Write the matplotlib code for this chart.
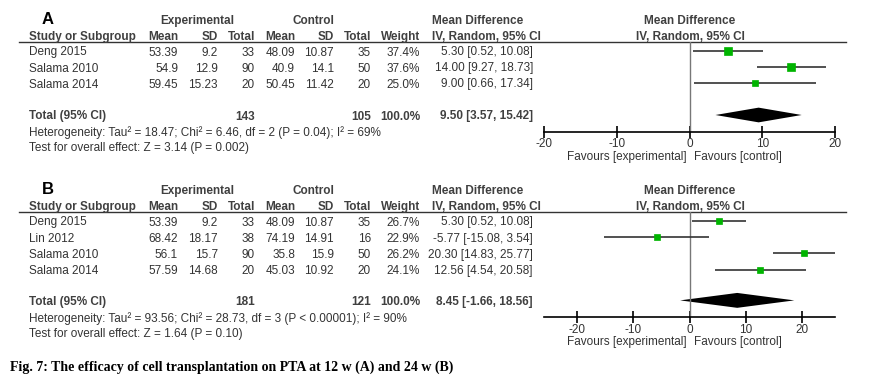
import numpy as np
import matplotlib
matplotlib.use("Agg")
import matplotlib.pyplot as plt

plt.rcParams['font.family'] = ['Liberation Sans', 'DejaVu Sans']

# ---- dados painel A (12 w)
studies_a = ["Deng 2015", "Salama 2010", "Salama 2014"]
exp_mean_a = [53.39, 54.9, 59.45]
exp_sd_a = [9.2, 12.9, 15.23]
exp_n_a = [33, 90, 20]
ctl_mean_a = [48.09, 40.9, 50.45]
ctl_sd_a = [10.87, 14.1, 11.42]
ctl_n_a = [35, 50, 20]
weight_a = [37.4, 37.6, 25.0]
md_a = [5.30, 14.00, 9.00]
lo_a = [0.52, 9.27, 0.66]
hi_a = [10.08, 18.73, 17.34]
total_a = [9.50, 3.57, 15.42]
het_a = "Heterogeneity: Tau² = 18.47; Chi² = 6.46, df = 2 (P = 0.04); I² = 69%"
test_a = "Test for overall effect: Z = 3.14 (P = 0.002)"

# ---- dados painel B (24 w)
studies_b = ["Deng 2015", "Lin 2012", "Salama 2010", "Salama 2014"]
exp_mean_b = [53.39, 68.42, 56.1, 57.59]
exp_sd_b = [9.2, 18.17, 15.7, 14.68]
exp_n_b = [33, 38, 90, 20]
ctl_mean_b = [48.09, 74.19, 35.8, 45.03]
ctl_sd_b = [10.87, 14.91, 15.9, 10.92]
ctl_n_b = [35, 16, 50, 20]
weight_b = [26.7, 22.9, 26.2, 24.1]
md_b = [5.30, -5.77, 20.30, 12.56]
lo_b = [0.52, -15.08, 14.83, 4.54]
hi_b = [10.08, 3.54, 25.77, 20.58]
total_b = [8.45, -1.66, 18.56]
het_b = "Heterogeneity: Tau² = 93.56; Chi² = 28.73, df = 3 (P < 0.00001); I² = 90%"
test_b = "Test for overall effect: Z = 1.64 (P = 0.10)"

ticks = [-20, -10, 0, 10, 20]
caption = "Fig. 7: The efficacy of cell transplantation on PTA at 12 w (A) and 24 w (B)"

W, H = 894, 383
fig = plt.figure(figsize=(W / 100, H / 100), dpi=100)
tab = fig.add_axes([0, 0, 1, 1])
tab.set_xlim(0, W)
tab.set_ylim(H, 0)
tab.axis("off")

TXT = "#333333"
HDR = "#404040"
FS = 8.5
GREEN = "#00b400"

# colunas (pixels, alinhadas a direita)
cols = [178, 218, 255, 295, 334, 371, 420]


def painel(letra, top, row_y, row_h, total_row, axis_y, xlim,
           studies, em, esd, en, cm, csd, cn, w, md, lo, hi, tot, het, test):
    # cabecalho
    tab.text(42, top - 22, letra, fontsize=12, fontweight="bold", color="black", va="center")
    tab.text(197, top - 21, "Experimental", fontsize=FS, fontweight="bold", color=HDR, ha="center", va="center")
    tab.text(313, top - 21, "Control", fontsize=FS, fontweight="bold", color=HDR, ha="center", va="center")
    tab.text(432, top - 21, "Mean Difference", fontsize=FS, fontweight="bold", color=HDR, va="center")
    tab.text(690, top - 21, "Mean Difference", fontsize=FS, fontweight="bold", color=HDR, ha="center", va="center")
    tab.text(29, top - 5, "Study or Subgroup", fontsize=FS, fontweight="bold", color=HDR, va="center")
    for x, lab in zip(cols, ["Mean", "SD", "Total", "Mean", "SD", "Total", "Weight"]):
        tab.text(x, top - 5, lab, fontsize=FS, fontweight="bold", color=HDR, ha="right", va="center")
    tab.text(432, top - 5, "IV, Random, 95% CI", fontsize=FS, fontweight="bold", color=HDR, va="center")
    tab.text(690, top - 5, "IV, Random, 95% CI", fontsize=FS, fontweight="bold", color=HDR, ha="center", va="center")
    tab.plot([19, 846], [top, top], color="#333333", lw=1)

    # linhas dos estudos
    for i, s in enumerate(studies):
        y = row_y + i * row_h + 1.5
        tab.text(29, y, s, fontsize=FS, color=TXT, va="center")
        vals = [str(em[i]), str(esd[i]), str(en[i]), str(cm[i]), str(csd[i]), str(cn[i]), f"{w[i]:.1f}%"]
        for x, v in zip(cols, vals):
            tab.text(x, y, v, fontsize=FS, color=TXT, ha="right", va="center")
        tab.text(533, y, f"{md[i]:.2f} [{lo[i]:.2f}, {hi[i]:.2f}]", fontsize=FS, color=TXT, ha="right", va="center")

    yt = row_y + total_row * row_h + 1.5
    tab.text(29, yt, "Total (95% CI)", fontsize=FS, fontweight="bold", color=HDR, va="center")
    tab.text(cols[2], yt, str(sum(en)), fontsize=FS, fontweight="bold", color=HDR, ha="right", va="center")
    tab.text(cols[5], yt, str(sum(cn)), fontsize=FS, fontweight="bold", color=HDR, ha="right", va="center")
    tab.text(cols[6], yt, "100.0%", fontsize=FS, fontweight="bold", color=HDR, ha="right", va="center")
    tab.text(533, yt, f"{tot[0]:.2f} [{tot[1]:.2f}, {tot[2]:.2f}]", fontsize=FS, fontweight="bold",
             color=HDR, ha="right", va="center")
    tab.text(29, yt + 16.5, het, fontsize=FS, color=TXT, va="center")
    tab.text(29, yt + 32, test, fontsize=FS, color=TXT, va="center")

    # grafico de floresta
    x0, x1 = 544, 835
    ax = fig.add_axes([x0 / W, 1 - axis_y / H, (x1 - x0) / W, (axis_y - top) / H])
    ax.set_xlim(*xlim)
    y_top = (top - row_y) / row_h
    y_bot = (axis_y - row_y) / row_h
    ax.set_ylim(y_bot, y_top)
    ax.patch.set_alpha(0)
    for sp in ["top", "left", "right"]:
        ax.spines[sp].set_visible(False)
    ax.spines["bottom"].set_color("black")
    ax.spines["bottom"].set_linewidth(1.2)
    ax.set_yticks([])
    ax.set_xticks(ticks)
    ax.set_xticklabels([str(t) for t in ticks])
    ax.tick_params(axis="x", direction="inout", length=8, width=1.2, pad=1, labelsize=FS,
                   labelcolor=TXT)
    ax.axvline(0, color="#777777", lw=1)

    yy = np.arange(len(studies))
    ax.hlines(yy, lo, hi, color="#333333", lw=1.2)
    for i in range(len(studies)):
        ax.plot(md[i], yy[i], marker="s", color=GREEN, markersize=0.85 * np.sqrt(w[i]),
                mec=GREEN, mew=0.5)
    h = 0.46
    ax.fill([tot[1], tot[0], tot[2], tot[0]], [total_row, total_row - h, total_row, total_row + h],
            color="black", lw=0)

    tab.text(687, axis_y + 25.5, "Favours [experimental]", fontsize=FS, color=TXT, ha="right", va="center")
    tab.text(694, axis_y + 25.5, "Favours [control]", fontsize=FS, color=TXT, va="center")


painel("A", 41.7, 51, 16.0, 4.0, 131.5, (-20, 20),
       studies_a, exp_mean_a, exp_sd_a, exp_n_a, ctl_mean_a, ctl_sd_a, ctl_n_a,
       weight_a, md_a, lo_a, hi_a, total_a, het_a, test_a)

painel("B", 211.7, 221, 16.2, 4.9, 316.7, (-max(hi_b), max(hi_b)),
       studies_b, exp_mean_b, exp_sd_b, exp_n_b, ctl_mean_b, ctl_sd_b, ctl_n_b,
       weight_b, md_b, lo_b, hi_b, total_b, het_b, test_b)

tab.text(10, 367, caption, fontsize=10, fontweight="bold", color="black", va="center",
         family=["Liberation Serif", "DejaVu Serif"])

fig.savefig("out.png", dpi=100)
